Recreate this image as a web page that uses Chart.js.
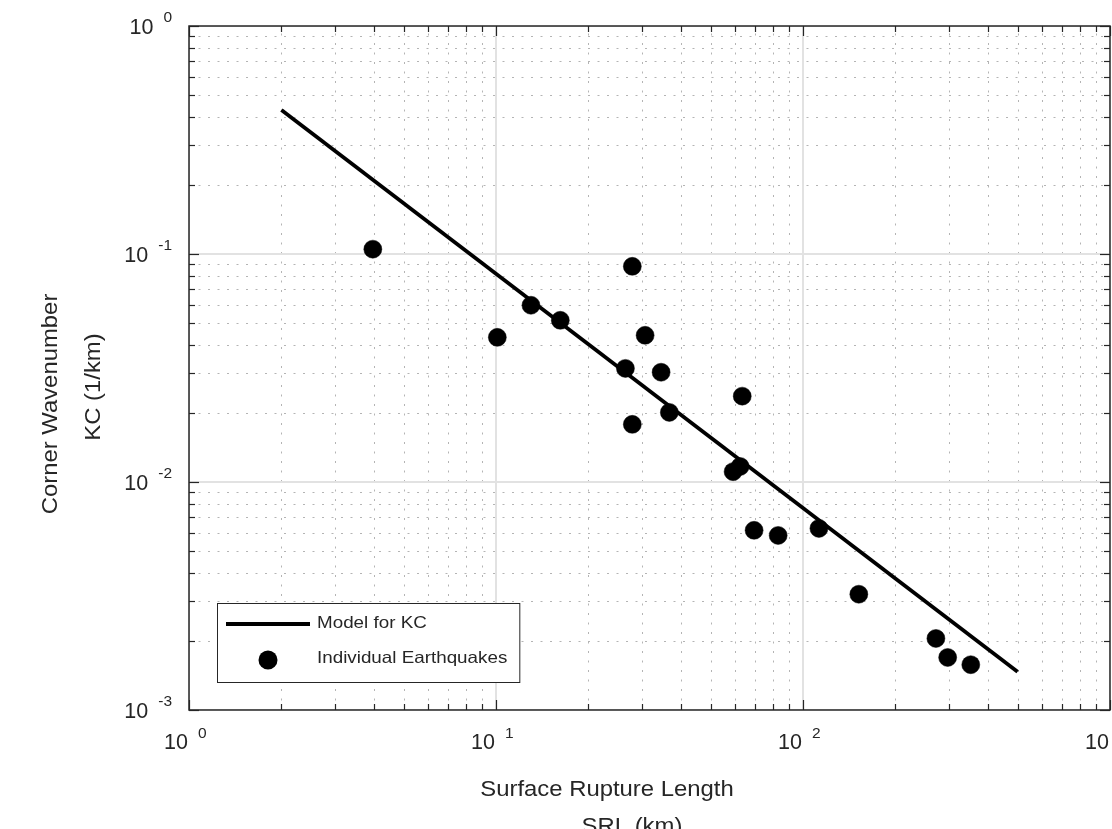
<!DOCTYPE html>
<html>
<head>
<meta charset="utf-8">
<script src="https://cdn.jsdelivr.net/npm/chart.js@4/dist/chart.umd.min.js"></script>
<style>
html,body{margin:0;padding:0;background:#fff}
canvas{display:block}
</style>
</head>
<body>
<canvas id="chart" width="1112" height="829"></canvas>
<script>
// earthquakes: surface rupture length (km) and corner wavenumber (1/km)
const srl=[3.97,10.1,13.0,16.2,27.8,30.6,26.4,34.5,36.7,27.8,63.4,62.4,59.2,69.3,83.0,112.7,152,271,296,352]
const kc=[0.105,0.0431,0.0596,0.0512,0.0883,0.0440,0.0315,0.0303,0.0202,0.0179,0.0238,0.0117,0.0111,0.00614,0.00583,0.00626,0.00322,0.00206,0.00170,0.00158]
// fitted model, end points of the straight line in log-log
const modelSrl=[2,500]
const modelKc=[0.428,0.00147]
// decade exponents for tick labels
const xDecades=[0,1,2,3]
const yDecades=[0,-1,-2,-3]
const xTitle=['Surface Rupture Length','SRL (km)']
const yTitle=['Corner Wavenumber','KC (1/km)']
const seriesNames=['Model for KC','Individual Earthquakes']

const axisColor='#262626'
const fontFamily='"Liberation Sans", Arial, Helvetica, sans-serif'

function minorValues(decades){
    let vals=[]
    const lo=Math.min(...decades)
    const hi=Math.max(...decades)
    for(let e=lo;e<hi;e++){
        for(let m=2;m<=9;m++) vals.push(m*Math.pow(10,e))
    }
    return vals
}

function seg(ctx,x1,y1,x2,y2){
    ctx.beginPath()
    ctx.moveTo(x1,y1)
    ctx.lineTo(x2,y2)
    ctx.stroke()
}

function text(ctx,str,x,y,size,align,sx,rot){
    ctx.save()
    ctx.font=`${size}px ${fontFamily}`
    ctx.fillStyle=axisColor
    ctx.textAlign=align
    ctx.textBaseline='alphabetic'
    ctx.translate(x,y)
    if(rot) ctx.rotate(rot)
    ctx.scale(sx||1,1)
    ctx.fillText(str,0,0)
    ctx.restore()
}

function textWidth(ctx,str,size){
    ctx.save()
    ctx.font=`${size}px ${fontFamily}`
    const w=ctx.measureText(str).width
    ctx.restore()
    return w
}

const logAxes={
    id:'logAxes',
    beforeDatasetsDraw(chart){
        const {ctx,chartArea:a,scales:{x,y}}=chart
        ctx.save()
        ctx.beginPath()
        ctx.rect(a.left,a.top,a.right-a.left,a.bottom-a.top)
        ctx.clip()

        // dotted minor grid
        ctx.strokeStyle='#b4b4b4'
        ctx.lineWidth=1
        ctx.setLineDash([2,7.5])
        for(const v of minorValues(xDecades)){
            const px=Math.round(x.getPixelForValue(v))+0.5
            seg(ctx,px,a.bottom,px,a.top)
        }
        for(const v of minorValues(yDecades)){
            const py=Math.round(y.getPixelForValue(v))+0.5
            seg(ctx,a.left,py,a.right,py)
        }

        // solid major grid
        ctx.setLineDash([])
        ctx.strokeStyle='#e2e2e2'
        ctx.lineWidth=2
        for(const e of xDecades){
            const px=Math.round(x.getPixelForValue(Math.pow(10,e)))
            seg(ctx,px,a.top,px,a.bottom)
        }
        for(const e of yDecades){
            const py=Math.round(y.getPixelForValue(Math.pow(10,e)))
            seg(ctx,a.left,py,a.right,py)
        }
        ctx.restore()
    },
    afterDatasetsDraw(chart){
        const {ctx,chartArea:a,scales:{x,y}}=chart
        ctx.save()
        ctx.strokeStyle=axisColor

        // inward ticks on all four sides
        ctx.lineWidth=1.2
        const tick=(px,len)=>{
            seg(ctx,px,a.bottom,px,a.bottom-len)
            seg(ctx,px,a.top,px,a.top+len)
        }
        const ytick=(py,len)=>{
            seg(ctx,a.left,py,a.left+len,py)
            seg(ctx,a.right,py,a.right-len,py)
        }
        for(const v of minorValues(xDecades)) tick(Math.round(x.getPixelForValue(v))+0.5,6)
        for(const v of minorValues(yDecades)) ytick(Math.round(y.getPixelForValue(v))+0.5,6)
        for(const e of xDecades) tick(Math.round(x.getPixelForValue(Math.pow(10,e)))+0.5,10)
        for(const e of yDecades) ytick(Math.round(y.getPixelForValue(Math.pow(10,e)))+0.5,10)

        // box
        ctx.lineWidth=1.5
        ctx.strokeRect(a.left,a.top,a.right-a.left,a.bottom-a.top)
        ctx.restore()

        // tick labels 10^n
        for(const e of xDecades){
            const px=x.getPixelForValue(Math.pow(10,e))
            text(ctx,'10',px-1,749,21.5,'right')
            text(ctx,String(e),px+9,738,15.5,'left')
        }
        for(const e of yDecades){
            const py=y.getPixelForValue(Math.pow(10,e))
            const exp=String(e)
            const ew=textWidth(ctx,exp,15.5)
            text(ctx,exp,172,py-4,15.5,'right')
            text(ctx,'10',172-ew-10,py+7.5,21.5,'right')
        }

        // axis titles
        text(ctx,xTitle[0],607,796,22,'center',1.085)
        text(ctx,xTitle[1],632,833,22,'center',1.085)
        text(ctx,yTitle[0],57,404,22,'center',1.085,-Math.PI/2)
        text(ctx,yTitle[1],100,387,22,'center',1.085,-Math.PI/2)
    },
    afterDraw(chart){
        const ctx=chart.ctx
        const ds=chart.data.datasets
        const size=16.5
        const sx=1.14
        const tx=317
        const w=Math.max(...ds.map(d=>textWidth(ctx,d.label,size)))*sx
        const left=217, top=603, bottom=682
        const right=tx+w+12

        ctx.save()
        ctx.fillStyle='#fff'
        ctx.fillRect(left,top,right-left,bottom-top)
        ctx.strokeStyle=axisColor
        ctx.lineWidth=1
        ctx.strokeRect(left+0.5,top+0.5,right-left,bottom-top)

        // line sample
        ctx.strokeStyle=ds[0].borderColor
        ctx.lineWidth=4
        seg(ctx,226,624,310,624)

        // marker sample
        ctx.fillStyle=ds[1].backgroundColor
        ctx.beginPath()
        ctx.arc(268,660,9.5,0,Math.PI*2)
        ctx.fill()
        ctx.restore()

        text(ctx,ds[0].label,tx,628,size,'left',sx)
        text(ctx,ds[1].label,tx,663,size,'left',sx)
    }
}

const chart=new Chart(document.getElementById('chart'),{
    type:'scatter',
    data:{
        datasets:[{
            label:seriesNames[0],
            data:modelSrl.map((v,i)=>({x:v,y:modelKc[i]})),
            showLine:true,
            borderColor:'#000000',
            borderWidth:3.8,
            pointRadius:0,
            fill:false,
            order:1
        },{
            label:seriesNames[1],
            data:srl.map((v,i)=>({x:v,y:kc[i]})),
            showLine:false,
            backgroundColor:'#000000',
            borderColor:'#000000',
            borderWidth:0.5,
            pointRadius:9,
            order:0
        }]
    },
    options:{
        responsive:false,
        animation:false,
        events:[],
        layout:{autoPadding:false,padding:{left:189,top:26,right:2,bottom:119}},
        plugins:{legend:{display:false},tooltip:{enabled:false}},
        scales:{
            x:{type:'logarithmic',min:1,max:1000,display:false},
            y:{type:'logarithmic',min:0.001,max:1,display:false}
        }
    },
    plugins:[logAxes]
})
</script>
</body>
</html>
